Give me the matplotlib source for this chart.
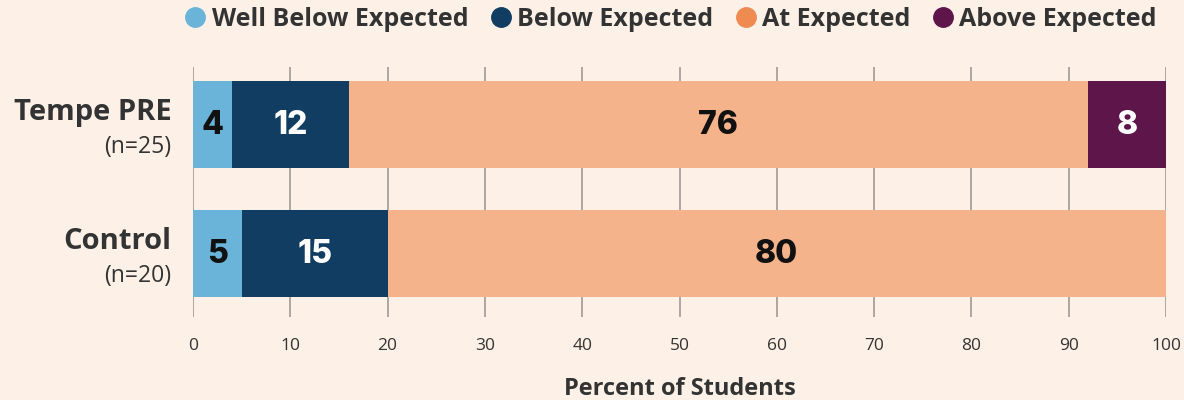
import matplotlib
matplotlib.use("Agg")
import matplotlib.pyplot as plt
from matplotlib.lines import Line2D
import numpy as np

groups = ["Tempe PRE", "Control"]
group_n = ["(n=25)", "(n=20)"]
series = ["Well Below Expected", "Below Expected", "At Expected", "Above Expected"]
values = {
    "Well Below Expected": [4, 5],
    "Below Expected": [12, 15],
    "At Expected": [76, 80],
    "Above Expected": [8, 0],
}
xticks = [0, 10, 20, 30, 40, 50, 60, 70, 80, 90, 100]

bar_colors = ["#6AB4DA", "#123D63", "#F4B38A", "#5E154A"]
legend_colors = ["#6AB4DA", "#123D63", "#EF8B51", "#5E154A"]
label_colors = ["#111111", "#FFFFFF", "#111111", "#FFFFFF"]
bg = "#FDF0E7"
txt = "#333333"

plt.rcParams['font.family'] = ['Open Sans', 'DejaVu Sans']

fig = plt.figure(figsize=(11.84, 4.0), dpi=100, facecolor=bg)
ax = fig.add_axes([193/1184, 1-317/400, (1166-193)/1184, 250/400], facecolor=bg)

y = np.arange(len(groups))
left = np.zeros(len(groups))
for s, c, lc in zip(series, bar_colors, label_colors):
    v = np.array(values[s], dtype=float)
    ax.barh(y, v, left=left, height=0.674, color=c, zorder=2)
    for yi, (l, vi) in enumerate(zip(left, v)):
        if vi > 0:
            ax.text(l + vi/2, yi + 0.01, f"{int(vi)}", ha="center", va="center",
                    fontsize=23, fontweight="heavy", color=lc, zorder=3,
                    family=["Inter", "Open Sans", "DejaVu Sans"])
    left += v

ax.set_xlim(0, 100)
ax.set_ylim(1.492, -0.446)
ax.set_xticks(xticks)
ax.set_xticklabels([str(t) for t in xticks], fontsize=12.5, color=txt)
ax.tick_params(axis="x", length=0, pad=15)
ax.set_yticks([])
ax.grid(axis="x", color="#A8A09C", linewidth=1.3, zorder=1)
for sp in ax.spines.values():
    sp.set_visible(False)

for yi, (g, n) in enumerate(zip(groups, group_n)):
    ax.text(-0.022, yi - 0.095, g, transform=ax.get_yaxis_transform(), ha="right", va="center",
            fontsize=21, fontweight="bold", color=txt)
    ax.text(-0.022, yi + 0.175, n, transform=ax.get_yaxis_transform(), ha="right", va="center",
            fontsize=16.5, color=txt)

fig.text((193 + 1166) / 2 / 1184, 1 - 389/400, "Percent of Students", ha="center", va="center",
         fontsize=17, fontweight="bold", color=txt)

handles = [Line2D([], [], marker="o", linestyle="", markersize=14, markerfacecolor=c,
                  markeredgecolor=c) for c in legend_colors]
leg = fig.legend(handles, series, loc="center", bbox_to_anchor=(671/1184, 1-19/400), ncol=4,
                 frameon=False, handletextpad=0.25, columnspacing=0.9, handlelength=0.8,
                 prop={"size": 18, "weight": "bold"})
for t in leg.get_texts():
    t.set_color(txt)

fig.savefig("out.png", dpi=100, facecolor=bg)
